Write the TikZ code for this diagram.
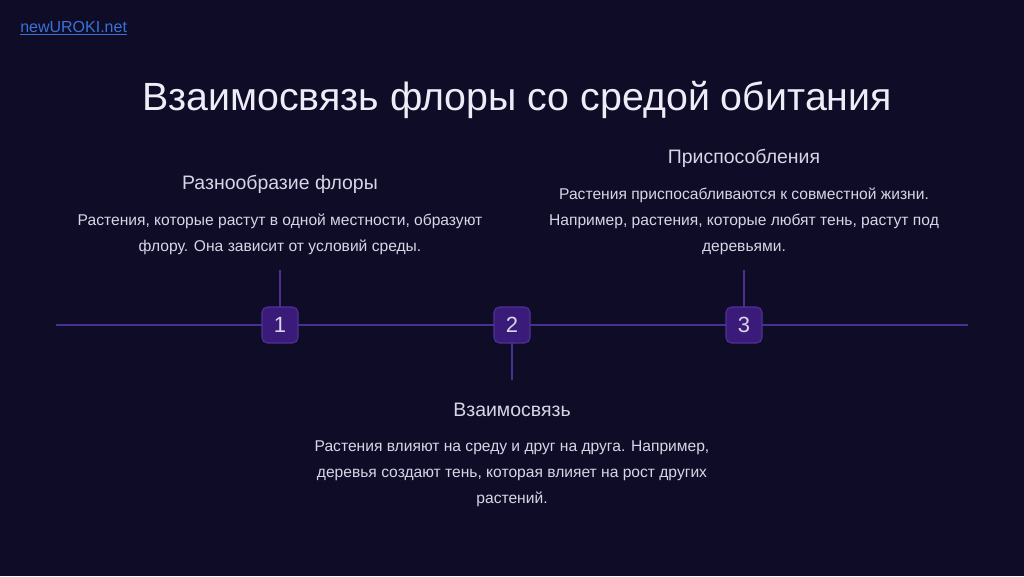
\documentclass[tikz,border=0pt]{standalone}
\usepackage{fontspec}
\setmainfont{Liberation Sans}
\usetikzlibrary{positioning}

\definecolor{bgdark}{HTML}{0F0C28}
\definecolor{lineviolet}{HTML}{4B318F}
\definecolor{boxfill}{HTML}{3A1B7A}
\definecolor{boxedge}{HTML}{4E3294}
\definecolor{lighttext}{HTML}{D8D5E6}
\definecolor{titletext}{HTML}{EEECF6}
\definecolor{linkblue}{HTML}{3A72D8}

\begin{document}
\begin{tikzpicture}[x=0.75pt, y=-0.75pt]
\tikzstyle{every node}=[inner sep=0pt, text=lighttext];
\tikzstyle{numbox}=[draw=boxedge, fill=boxfill, line width=0.8pt, rounded corners=4pt, minimum size=27pt, font=\fontsize{16.5}{18}\selectfont];
\tikzstyle{head}=[anchor=base, font=\fontsize{14.6}{16}\selectfont];
\tikzstyle{body}=[below=18.5pt, align=center, font=\fontsize{11.7}{19.5}\selectfont];
\tikzstyle{timeline}=[lineviolet, line width=2.2pt];
\fill[bgdark] (0,0) rectangle (1024,576);
\useasboundingbox (0,0) rectangle (1024,576);
\node[anchor=base west, text=linkblue, font=\fontsize{12}{14}\selectfont] (link) at (20,32) {\underline{newUROKI.net}};
\node[anchor=base, text=titletext, font=\fontsize{29.5}{32}\selectfont] (title) at (517,110) {Взаимосвязь флоры со средой обитания};
% timeline
\coordinate (tlstart) at (56,325);
\coordinate (tlend) at (968,325);
\coordinate (tick1) at (280,270);
\coordinate (tick2) at (512,380);
\coordinate (tick3) at (744,270);
\draw [timeline] (tlstart) -- (tlend);
\draw [timeline] (tick1) -- (280,325);
\draw [timeline] (tick2) -- (512,325);
\draw [timeline] (tick3) -- (744,325);
\node[numbox] (n1) at (280,325) {1};
\node[numbox] (n2) at (512,325) {2};
\node[numbox] (n3) at (744,325) {3};
% texts
\node[head] (h1) at (280,189) {Разнообразие флоры};
\node[body] (b1) at (h1.base) {Растения, которые растут в одной местности, образуют\\флору. Она зависит от условий среды.};
\node[head] (h3) at (744,163) {Приспособления};
\node[body] (b3) at (h3.base) {Растения приспосабливаются к совместной жизни.\\Например, растения, которые любят тень, растут под\\деревьями.};
\node[head] (h2) at (512,416) {Взаимосвязь};
\node[body] (b2) at (h2.base) {Растения влияют на среду и друг на друга. Например,\\деревья создают тень, которая влияет на рост других\\растений.};
\end{tikzpicture}
\end{document}
